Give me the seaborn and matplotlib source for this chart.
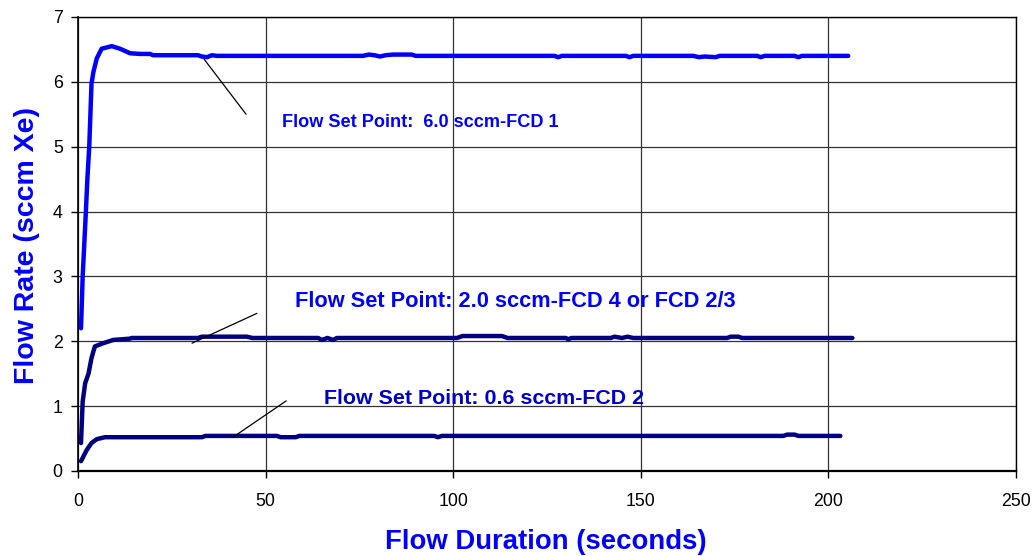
import matplotlib
matplotlib.use("Agg")
import matplotlib.pyplot as plt
import seaborn as sns
import pandas as pd

# flow set point 6.0 sccm - FCD 1
t_fcd1 = [0.8, 1.25, 2.1, 2.5, 3.0, 3.6, 4.1, 5.0, 6.3, 9.0, 11.2, 13.9, 16.5, 19.2, 20.0,
          32.0, 33.0, 34.4, 35.7, 37.0, 76.0, 77.5, 79.0, 80.5, 82.0, 84.0, 89.0, 90.0,
          127.0, 128.0, 129.0, 146.0, 147.0, 148.0, 164.0, 165.5, 167.0, 170.0, 171.0,
          181.0, 182.0, 183.0, 191.0, 192.0, 193.0, 205.3]
q_fcd1 = [2.2, 3.0, 4.0, 4.5, 5.0, 5.97, 6.15, 6.36, 6.51, 6.55, 6.51, 6.44, 6.43, 6.43, 6.41,
          6.41, 6.39, 6.38, 6.41, 6.40, 6.40, 6.42, 6.41, 6.39, 6.41, 6.42, 6.42, 6.40,
          6.40, 6.38, 6.40, 6.40, 6.38, 6.40, 6.40, 6.38, 6.39, 6.38, 6.40,
          6.40, 6.38, 6.40, 6.40, 6.38, 6.40, 6.40]

# flow set point 2.0 sccm - FCD 4 or FCD 2/3
t_fcd4 = [0.8, 1.25, 1.9, 2.8, 3.6, 4.5, 6.75, 9.4, 13.9, 14.3, 32.0, 33.0, 45.0, 46.5,
          64.0, 65.0, 66.5, 68.0, 69.0, 70.0, 101.0, 102.5, 113.0, 114.5, 130.0, 130.7,
          131.5, 142.0, 143.0, 145.0, 146.5, 148.0, 173.0, 174.0, 176.0, 177.0, 206.4]
q_fcd4 = [0.43, 1.07, 1.35, 1.5, 1.74, 1.92, 1.97, 2.02, 2.04, 2.05, 2.05, 2.07, 2.07, 2.05,
          2.05, 2.02, 2.05, 2.02, 2.05, 2.05, 2.05, 2.08, 2.08, 2.05, 2.05, 2.03,
          2.05, 2.05, 2.07, 2.05, 2.07, 2.05, 2.05, 2.07, 2.07, 2.05, 2.05]

# flow set point 0.6 sccm - FCD 2
t_fcd2 = [0.8, 2.3, 3.6, 5.0, 7.2, 33.0, 34.0, 53.0, 54.0, 58.0, 59.0, 95.0, 95.9, 97.0,
          188.0, 189.0, 191.0, 192.0, 203.2]
q_fcd2 = [0.15, 0.32, 0.43, 0.49, 0.52, 0.52, 0.54, 0.54, 0.52, 0.52, 0.54, 0.54, 0.52, 0.54,
          0.54, 0.56, 0.56, 0.54, 0.54]

labels = ["Flow Set Point:  6.0 sccm-FCD 1",
          "Flow Set Point: 2.0 sccm-FCD 4 or FCD 2/3",
          "Flow Set Point: 0.6 sccm-FCD 2"]
label_pos = [(54.3, 5.38), (57.9, 2.62), (65.6, 1.12)]
leader_x = [(33.6, 44.8), (30.4, 47.7), (41.3, 55.5)]
leader_y = [(6.35, 5.50), (1.97, 2.43), (0.52, 1.08)]

x_ticks = [0, 50, 100, 150, 200, 250]
y_ticks = [0, 1, 2, 3, 4, 5, 6, 7]

df = pd.concat([
    pd.DataFrame({"t": t_fcd1, "q": q_fcd1, "run": "FCD 1"}),
    pd.DataFrame({"t": t_fcd4, "q": q_fcd4, "run": "FCD 4"}),
    pd.DataFrame({"t": t_fcd2, "q": q_fcd2, "run": "FCD 2"}),
])

sns.set_style("white")
plt.rcParams["font.family"] = ["Liberation Sans", "DejaVu Sans"]

fig = plt.figure(figsize=(10.33, 5.56), dpi=100)
ax = fig.add_axes([0.0755, 0.153, 0.908, 0.8165])

colors = {"FCD 1": "#0000FF", "FCD 4": "#000080", "FCD 2": "#000080"}
sns.lineplot(data=df, x="t", y="q", hue="run", palette=colors, sort=False,
             estimator=None, linewidth=3.2, legend=False, ax=ax,
             solid_capstyle="round", solid_joinstyle="round")

for lx, ly in zip(leader_x, leader_y):
    ax.plot(lx, ly, color="black", linewidth=0.9)

text_colors = ["#0000FF", "#0000FF", "#0000CC"]
text_sizes = [13.1, 15.7, 15.4]
for lab, (px, py), c, s in zip(labels, label_pos, text_colors, text_sizes):
    ax.text(px, py, lab, color=c, fontsize=s, fontweight="bold", va="center", ha="left")

ax.set_xlim(0, 250)
ax.set_ylim(0, 7)
ax.set_xticks(x_ticks)
ax.set_yticks(y_ticks)
ax.grid(True, color="#333333", linewidth=0.9)
ax.set_axisbelow(True)
for sp in ax.spines.values():
    sp.set_color("black")
    sp.set_linewidth(1.0)
ax.spines["bottom"].set_linewidth(1.6)
ax.spines["left"].set_linewidth(1.2)
ax.tick_params(axis="both", direction="out", length=5, width=1, labelsize=12.8,
               colors="black", bottom=True, left=True)
ax.tick_params(axis="x", pad=11)
ax.tick_params(axis="y", pad=6)

ax.set_xlabel("Flow Duration (seconds)", color="#0000FF", fontsize=19.8,
              fontweight="bold")
ax.set_ylabel("Flow Rate (sccm Xe)", color="#0000FF", fontsize=20.5,
              fontweight="bold")
ax.xaxis.set_label_coords(0.499, -0.127)
ax.yaxis.set_label_coords(-0.041, 0.497)

fig.savefig("out.png", dpi=100)
